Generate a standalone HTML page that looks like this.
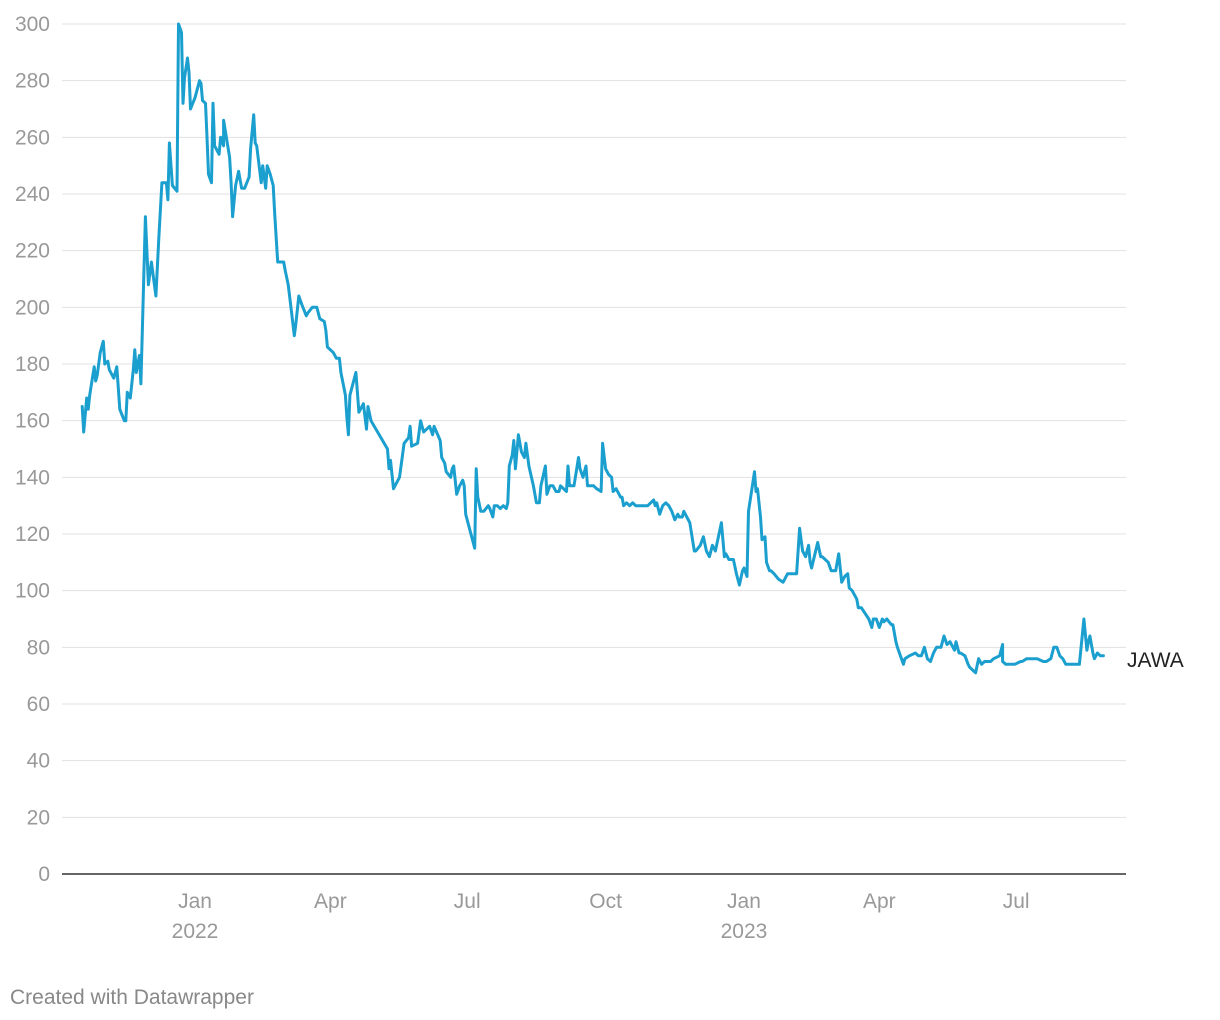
<!DOCTYPE html>
<html><head><meta charset="utf-8"><style>
html,body{margin:0;padding:0;background:#fff;}
svg{display:block;font-family:"Liberation Sans",Arial,sans-serif;}
</style></head><body>
<svg id="chart" width="1220" height="1020" viewBox="0 0 1220 1020" xmlns="http://www.w3.org/2000/svg">
<g id="grid"></g>
<g id="yaxis"></g>
<g id="xaxis"></g>
<g id="series"></g>
<text x="10" y="1004" font-size="21" fill="#888">Created with Datawrapper</text>
</svg>
<script>
// days relative to 2022-01-01
const days = [-75,-74,-72,-71,-70,-67,-66,-65,-63,-61,-60,-58,-57,-54,-52,-50,-47,-46,-45,-43,-41,-40,-39,-37,-36,-33,-31,-29,-26,-24,-22,-19,-18,-17,-15,-12,-11,-9,-8,-7,-5,-4,-3,0,3,4,5,7,8,9,11,12,13,16,17,19,19,23,24,25,27,29,31,33,36,37,39,40,41,44,45,47,48,50,52,53,55,59,60,62,64,66,67,69,71,74,75,78,81,83,86,87,88,92,94,96,97,100,101,102,103,107,109,112,114,115,117,128,129,130,132,136,139,142,143,144,148,150,152,154,156,158,159,163,164,166,167,170,171,172,174,176,178,179,180,183,184,186,187,188,190,192,195,196,198,199,201,203,205,207,208,209,211,212,213,215,217,219,220,222,225,227,229,230,233,234,236,238,240,242,243,247,248,249,252,255,256,258,260,261,263,265,267,270,271,273,275,277,278,280,283,284,285,287,289,291,293,296,299,301,305,306,307,309,311,313,315,317,319,321,322,324,325,327,329,332,333,336,338,340,340,342,344,346,348,350,352,353,355,358,360,362,364,365,367,368,370,372,373,374,376,377,379,380,382,383,385,388,391,394,396,398,400,402,404,406,408,409,410,414,416,417,419,421,423,426,428,430,432,434,435,437,440,441,443,448,450,451,453,455,457,458,460,463,464,466,467,471,472,475,479,481,483,485,487,489,491,493,496,498,500,502,505,506,508,509,512,514,515,517,519,521,523,525,529,531,535,537,537,539,542,545,549,550,553,556,560,564,566,569,571,573,575,577,579,580,583,585,588,591,593,594,595,597,598,600,602,604,606];
const prices = [165,156,168,164,169,179,174,176,184,188,180,181,178,175,179,164,160,160,170,168,178,185,177,183,173,232,208,216,204,225,244,244,238,258,243,241,300,297,272,281,288,283,270,274,280,279,273,272,260,247,244,272,257,254,260,257,266,253,244,232,243,248,242,242,246,256,268,258,257,244,250,242,250,247,243,233,216,216,213,208,199,190,194,204,201,197,198,200,200,196,195,192,186,184,182,182,177,169,161,155,169,177,163,166,157,165,160,150,143,146,136,140,152,154,158,151,152,160,156,157,158,155,158,153,147,145,142,140,143,144,134,137,139,137,127,121,119,115,143,133,128,128,130,129,126,130,130,129,130,129,131,144,148,153,143,155,149,147,152,144,137,131,131,137,144,134,137,137,135,135,137,135,144,137,137,147,143,140,144,137,137,137,136,135,152,143,141,140,135,136,133,133,130,131,130,131,130,130,130,130,132,130,131,127,130,131,130,128,125,127,126,126,128,126,124,114,114,116,119,114,114,112,116,114,119,124,112,113,111,111,106,102,107,108,105,128,135,142,135,136,126,118,119,110,107,107,106,104,103,106,106,106,106,122,114,112,116,110,108,117,112,112,111,110,107,107,113,103,105,106,101,100,97,94,94,90,87,90,90,87,90,89,90,88,88,82,80,74,76,77,78,77,77,80,76,75,78,80,80,84,81,82,79,82,78,78,77,74,73,72,71,76,74,75,75,76,77,81,75,74,74,74,75,75,76,76,76,75,75,76,80,80,77,76,74,74,74,74,74,90,79,82,84,78,76,78,77,77];
const yTicks = [0,20,40,60,80,100,120,140,160,180,200,220,240,260,280,300];
const xTickDays = [0,90,181,273,365,455,546];
const xTickLabels = [["Jan","2022"],["Apr",""],["Jul",""],["Oct",""],["Jan","2023"],["Apr",""],["Jul",""]];
const seriesName = "JAWA";

const NS="http://www.w3.org/2000/svg";
const xS = d => 195 + d*1.504;
const yS = v => 874 - v*(850/300);
function mk(tag, attrs, parent){const e=document.createElementNS(NS,tag);for(const k in attrs)e.setAttribute(k,attrs[k]);parent.appendChild(e);return e;}
const grid=document.getElementById('grid'), ya=document.getElementById('yaxis'), xa=document.getElementById('xaxis'), sg=document.getElementById('series');
yTicks.forEach(t=>{
  const l=mk('line',{x1:62,x2:1126,y1:yS(t),y2:yS(t),stroke:t===0?'#333':'#e1e1e1','stroke-width':t===0?1.5:1},grid);
  
  
  const tx=mk('text',{x:50,y:yS(t)+7,'font-size':21,fill:'#999','text-anchor':'end'},ya);
  
  
  tx.textContent=t;
});
xTickDays.forEach((d,i)=>{
  const t1=mk('text',{x:xS(d),y:908,'font-size':21,fill:'#999','text-anchor':'middle'},xa);
  
  
  t1.textContent=xTickLabels[i][0];
  if(xTickLabels[i][1]){
    const t2=mk('text',{x:xS(d),y:938,'font-size':21,fill:'#999','text-anchor':'middle'},xa);
    
    
    t2.textContent=xTickLabels[i][1];
  }
});
const pts=days.map((d,i)=>xS(d).toFixed(1)+','+yS(prices[i]).toFixed(1)).join(' ');
const pl=mk('polyline',{points:pts,fill:'none',stroke:'#1a9fce','stroke-width':3,'stroke-linejoin':'round','stroke-linecap':'round'},sg);


const lab=mk('text',{x:1127,y:yS(prices[prices.length-1])+11,'font-size':21,fill:'#222'},sg);


lab.textContent=seriesName;
</script>
</body></html>
